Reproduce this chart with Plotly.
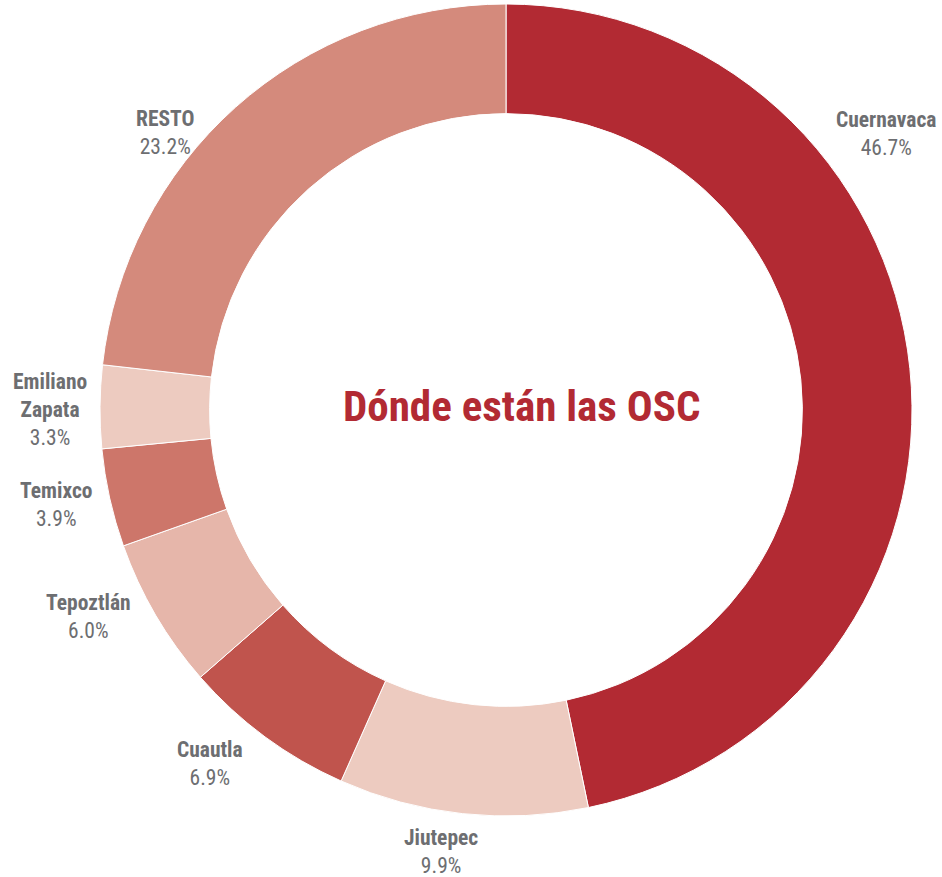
import plotly.graph_objects as go

categories = ["Cuernavaca", "Jiutepec", "Cuautla", "Tepoztlán", "Temixco", "Emiliano<br>Zapata", "RESTO"]
values = [46.7, 9.9, 6.9, 6.0, 3.9, 3.3, 23.2]
pct_labels = ["46.7%", "9.9%", "6.9%", "6.0%", "3.9%", "3.3%", "23.2%"]
colors = ["#B22A33", "#EDCBC0", "#C0544D", "#E6B6AA", "#CD766A", "#EDCBC0", "#D48A7C"]

# label anchor positions in pixels (x center, y top of name)
label_pos = [(886, 105), (441, 823), (210, 735), (88, 588), (56, 476), (50, 367), (165, 104)]

W, H = 942, 877
FONT = "Liberation Sans Narrow, Roboto Condensed, DejaVu Sans Condensed, sans-serif"

cx, cy, r = 506, 410, 406

fig = go.Figure(go.Pie(
    labels=categories, values=values, sort=False, direction="clockwise", rotation=0,
    hole=0.73, textinfo="none", hoverinfo="label+percent",
    marker=dict(colors=colors, line=dict(color="white", width=1)),
    domain=dict(x=[(cx - r) / W, (cx + r) / W], y=[1 - (cy + r) / H, 1 - (cy - r) / H]),
    showlegend=False,
))

anns = []
for name, pct, (x, y) in zip(categories, pct_labels, label_pos):
    anns.append(dict(
        x=x / W, y=1 - y / H, xref="paper", yref="paper", xanchor="center", yanchor="top",
        text=f"<b>{name}</b><br>{pct}", showarrow=False, align="center",
        font=dict(family=FONT, size=21.5, color="#6D6E71"),
    ))
anns.append(dict(
    x=521 / W, y=1 - 406 / H, xref="paper", yref="paper", xanchor="center", yanchor="middle",
    text="<b>Dónde están las OSC</b>", showarrow=False,
    font=dict(family=FONT, size=43, color="#B22A33"),
))

fig.update_layout(
    width=W, height=H, margin=dict(l=0, r=0, t=0, b=0),
    paper_bgcolor="white", plot_bgcolor="white", annotations=anns,
)
fig.write_html("out.html", config={"displayModeBar": False},
               post_script="document.body.style.margin='0px';")
